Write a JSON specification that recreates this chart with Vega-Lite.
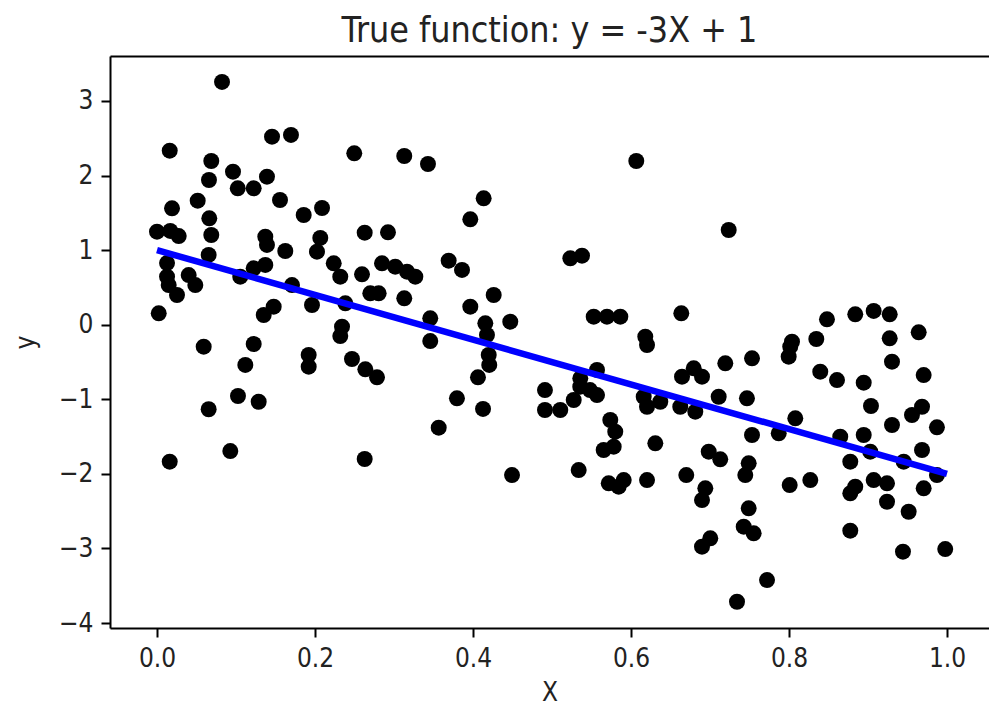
{
  "$schema": "https://vega.github.io/schema/vega-lite/v6.json",
  "autosize": "none",
  "width": 879,
  "height": 572,
  "padding": {"left": 110, "top": 56, "right": 0, "bottom": 83},
  "background": "white",
  "config": {
    "view": {"stroke": null},
    "font": "DejaVu Sans",
    "axis": {
      "grid": false,
      "domainColor": "#000000",
      "domainWidth": 2,
      "tickColor": "#000000",
      "tickWidth": 2,
      "tickSize": 9,
      "labelFont": "DejaVu Sans Condensed",
      "labelFontSize": 26,
      "labelColor": "#222222",
      "labelPadding": 8,
      "titleFont": "DejaVu Sans Condensed",
      "titleFontSize": 26,
      "titleFontWeight": "normal",
      "titleColor": "#222222"
    },
    "title": {"font": "DejaVu Sans Condensed", "fontSize": 35.5, "fontWeight": "normal", "color": "#222222"}
  },
  "title": {"text": "True function: y = -3X + 1", "anchor": "middle", "offset": 7},
  "datasets": {
    "points": [
      {"X": 0.0823, "y": 3.255}, {"X": 0.0161, "y": 2.333}, {"X": 0.1456, "y": 2.521}, {"X": 0.1696, "y": 2.544},
      {"X": 0.0687, "y": 2.195}, {"X": 0.0658, "y": 1.94}, {"X": 0.0962, "y": 2.052}, {"X": 0.1022, "y": 1.829},
      {"X": 0.1224, "y": 1.829}, {"X": 0.1392, "y": 1.985}, {"X": 0.1557, "y": 1.672}, {"X": 0.1857, "y": 1.471},
      {"X": 0.2089, "y": 1.565}, {"X": 0.0515, "y": 1.663}, {"X": 0.019, "y": 1.561}, {"X": 0.0662, "y": 1.427},
      {"X": 0.0687, "y": 1.203}, {"X": 0.0, "y": 1.247}, {"X": 0.0168, "y": 1.257}, {"X": 0.0275, "y": 1.189},
      {"X": 0.1371, "y": 1.18}, {"X": 0.1392, "y": 1.069}, {"X": 0.1624, "y": 0.988}, {"X": 0.2025, "y": 0.979},
      {"X": 0.2067, "y": 1.163}, {"X": 0.0654, "y": 0.935}, {"X": 0.0127, "y": 0.827}, {"X": 0.0127, "y": 0.644},
      {"X": 0.0148, "y": 0.532}, {"X": 0.0253, "y": 0.398}, {"X": 0.0401, "y": 0.666}, {"X": 0.0485, "y": 0.532},
      {"X": 0.1054, "y": 0.644}, {"X": 0.1224, "y": 0.756}, {"X": 0.1371, "y": 0.801}, {"X": 0.1709, "y": 0.532},
      {"X": 0.1962, "y": 0.264}, {"X": 0.1351, "y": 0.13}, {"X": 0.1477, "y": 0.241}, {"X": 0.0022, "y": 0.153},
      {"X": 0.0591, "y": -0.295}, {"X": 0.1224, "y": -0.259}, {"X": 0.1118, "y": -0.54}, {"X": 0.192, "y": -0.406},
      {"X": 0.192, "y": -0.563}, {"X": 0.1025, "y": -0.956}, {"X": 0.1287, "y": -1.033}, {"X": 0.0654, "y": -1.134},
      {"X": 0.0928, "y": -1.694}, {"X": 0.0161, "y": -1.837}, {"X": 0.2497, "y": 2.298}, {"X": 0.313, "y": 2.262},
      {"X": 0.343, "y": 2.155}, {"X": 0.4135, "y": 1.695}, {"X": 0.3966, "y": 1.413}, {"X": 0.2629, "y": 1.234},
      {"X": 0.2924, "y": 1.239}, {"X": 0.2237, "y": 0.823}, {"X": 0.232, "y": 0.644}, {"X": 0.2595, "y": 0.676},
      {"X": 0.2848, "y": 0.823}, {"X": 0.3016, "y": 0.778}, {"X": 0.3165, "y": 0.711}, {"X": 0.327, "y": 0.644},
      {"X": 0.27, "y": 0.421}, {"X": 0.2806, "y": 0.421}, {"X": 0.313, "y": 0.354}, {"X": 0.3692, "y": 0.858},
      {"X": 0.3861, "y": 0.734}, {"X": 0.4262, "y": 0.398}, {"X": 0.3966, "y": 0.241}, {"X": 0.4472, "y": 0.04},
      {"X": 0.4156, "y": 0.019}, {"X": 0.3459, "y": 0.086}, {"X": 0.2384, "y": 0.287}, {"X": 0.2342, "y": -0.027},
      {"X": 0.232, "y": -0.152}, {"X": 0.3459, "y": -0.219}, {"X": 0.4177, "y": -0.138}, {"X": 0.2468, "y": -0.46},
      {"X": 0.2637, "y": -0.598}, {"X": 0.2785, "y": -0.705}, {"X": 0.4199, "y": -0.406}, {"X": 0.4206, "y": -0.54},
      {"X": 0.4063, "y": -0.705}, {"X": 0.3797, "y": -0.987}, {"X": 0.4127, "y": -1.13}, {"X": 0.3566, "y": -1.381},
      {"X": 0.2629, "y": -1.801}, {"X": 0.4494, "y": -2.016}, {"X": 0.4911, "y": -0.876}, {"X": 0.4911, "y": -1.144},
      {"X": 0.5105, "y": -1.144}, {"X": 0.5275, "y": -1.01}, {"X": 0.5358, "y": -0.831}, {"X": 0.5358, "y": -0.719},
      {"X": 0.557, "y": -0.607}, {"X": 0.557, "y": -0.943}, {"X": 0.5481, "y": -0.876}, {"X": 0.5738, "y": -1.278},
      {"X": 0.5801, "y": -1.435}, {"X": 0.5781, "y": -1.636}, {"X": 0.5654, "y": -1.68}, {"X": 0.5338, "y": -1.949},
      {"X": 0.5718, "y": -2.127}, {"X": 0.5844, "y": -2.172}, {"X": 0.5908, "y": -2.083}, {"X": 0.6203, "y": -2.083},
      {"X": 0.6308, "y": -1.59}, {"X": 0.6161, "y": -0.966}, {"X": 0.6203, "y": -1.1}, {"X": 0.6371, "y": -1.033},
      {"X": 0.6624, "y": -1.1}, {"X": 0.6814, "y": -1.167}, {"X": 0.6646, "y": -0.697}, {"X": 0.6794, "y": -0.585},
      {"X": 0.6899, "y": -0.697}, {"X": 0.7194, "y": -0.518}, {"X": 0.7532, "y": -0.451}, {"X": 0.711, "y": -0.966},
      {"X": 0.7468, "y": -0.987}, {"X": 0.7532, "y": -1.479}, {"X": 0.6984, "y": -1.703}, {"X": 0.713, "y": -1.805},
      {"X": 0.749, "y": -1.859}, {"X": 0.7447, "y": -2.016}, {"X": 0.67, "y": -2.016}, {"X": 0.6941, "y": -2.194},
      {"X": 0.6899, "y": -2.351}, {"X": 0.749, "y": -2.462}, {"X": 0.7427, "y": -2.709}, {"X": 0.7553, "y": -2.797},
      {"X": 0.7004, "y": -2.864}, {"X": 0.6899, "y": -2.977}, {"X": 0.7342, "y": -3.715}, {"X": 0.7722, "y": -3.424},
      {"X": 0.6203, "y": -0.272}, {"X": 0.6067, "y": 2.195}, {"X": 0.7237, "y": 1.27}, {"X": 0.5232, "y": 0.89},
      {"X": 0.538, "y": 0.925}, {"X": 0.5528, "y": 0.107}, {"X": 0.5696, "y": 0.107}, {"X": 0.5865, "y": 0.107},
      {"X": 0.6637, "y": 0.153}, {"X": 0.6181, "y": -0.161}, {"X": 0.8481, "y": 0.072}, {"X": 0.8839, "y": 0.139},
      {"X": 0.9072, "y": 0.184}, {"X": 0.9275, "y": 0.139}, {"X": 0.9642, "y": -0.102}, {"X": 0.8346, "y": -0.192},
      {"X": 0.8038, "y": -0.228}, {"X": 0.9275, "y": -0.182}, {"X": 0.8016, "y": -0.295}, {"X": 0.7996, "y": -0.429},
      {"X": 0.9304, "y": -0.496}, {"X": 0.8396, "y": -0.63}, {"X": 0.8608, "y": -0.742}, {"X": 0.8946, "y": -0.778},
      {"X": 0.9705, "y": -0.675}, {"X": 0.9038, "y": -1.09}, {"X": 0.9557, "y": -1.211}, {"X": 0.9684, "y": -1.1},
      {"X": 0.9304, "y": -1.345}, {"X": 0.9873, "y": -1.376}, {"X": 0.808, "y": -1.255}, {"X": 0.787, "y": -1.456},
      {"X": 0.8649, "y": -1.502}, {"X": 0.8946, "y": -1.479}, {"X": 0.9029, "y": -1.703}, {"X": 0.9684, "y": -1.68},
      {"X": 0.9452, "y": -1.837}, {"X": 0.9873, "y": -2.016}, {"X": 0.8776, "y": -1.837}, {"X": 0.8009, "y": -2.15},
      {"X": 0.827, "y": -2.083}, {"X": 0.8776, "y": -2.261}, {"X": 0.8839, "y": -2.172}, {"X": 0.9072, "y": -2.083},
      {"X": 0.9241, "y": -2.127}, {"X": 0.9241, "y": -2.374}, {"X": 0.9705, "y": -2.194}, {"X": 0.9515, "y": -2.508},
      {"X": 0.8776, "y": -2.762}, {"X": 0.9443, "y": -3.044}, {"X": 0.9978, "y": -3.008}
    ],
    "line": [{"X": 0.0, "y": 1.0}, {"X": 1.0, "y": -2.0}]
  },
  "layer": [
    {
      "data": {"name": "points"},
      "mark": {"type": "circle", "size": 255, "color": "#000000", "opacity": 1},
      "encoding": {
        "x": {
          "field": "X", "type": "quantitative",
          "scale": {"domain": [-0.0595, 1.0532], "nice": false, "zero": false},
          "axis": {"orient": "bottom", "values": [0, 0.2, 0.4, 0.6, 0.8, 1.0], "format": ".1f", "title": "X", "titlePadding": 8}
        },
        "y": {
          "field": "y", "type": "quantitative",
          "scale": {"domain": [-4.067, 3.603], "nice": false, "zero": false},
          "axis": {"values": [-4, -3, -2, -1, 0, 1, 2, 3], "format": "d", "title": "y", "titlePadding": 20}
        }
      }
    },
    {
      "data": {"name": "line"},
      "mark": {"type": "line", "color": "#0000ff", "strokeWidth": 6.5},
      "encoding": {
        "x": {"field": "X", "type": "quantitative", "axis": {"orient": "top", "labels": false, "ticks": false, "title": null, "domain": true}},
        "y": {"field": "y", "type": "quantitative"}
      }
    }
  ],
  "resolve": {"axis": {"x": "independent"}}
}
